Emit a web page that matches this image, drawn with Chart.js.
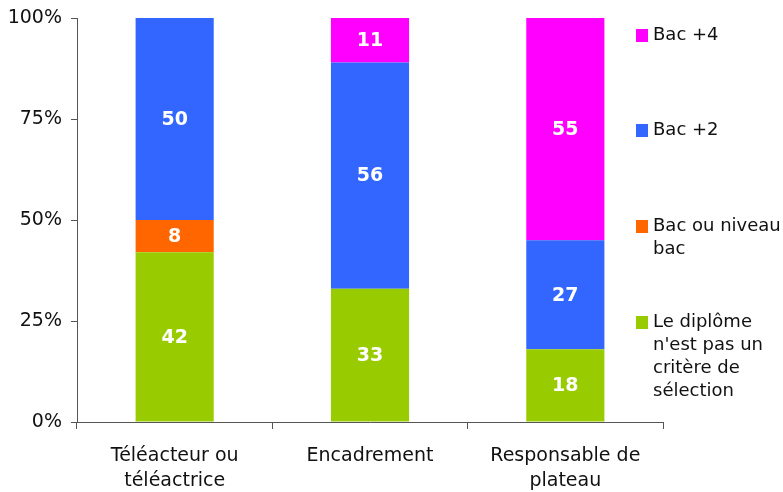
<!DOCTYPE html>
<html>
<head>
<meta charset="utf-8">
<script src="https://cdn.jsdelivr.net/npm/chart.js@4"></script>
<style>
  html, body { margin: 0; padding: 0; background: #fff; }
  #wrap { position: relative; width: 783px; height: 492px; }
</style>
</head>
<body>
<div id="wrap"><canvas id="chart" width="783" height="492"></canvas></div>
<script>
const categories = [['Téléacteur ou', 'téléactrice'], 'Encadrement', ['Responsable de', 'plateau']];
const seriesNames = ['Le diplôme n\'est pas un critère de sélection', 'Bac ou niveau bac', 'Bac +2', 'Bac +4'];
const diplomeNonCritere = [42, 33, 18];
const bacNiveauBac = [8, 0, 0];
const bacPlus2 = [50, 56, 27];
const bacPlus4 = [0, 11, 55];
const yTicks = [0, 25, 50, 75, 100];

const colors = ['#99CC00', '#FF6600', '#3366FF', '#FF00FF'];
// lignes de la légende (ordre d'affichage, du haut vers le bas)
const legendLines = [
  ['Bac +4'],
  ['Bac +2'],
  ['Bac ou niveau', 'bac'],
  ['Le diplôme', 'n\'est pas un', 'critère de', 'sélection']
];
const legendColors = [colors[3], colors[2], colors[1], colors[0]];

const FONT = '"DejaVu Sans", Verdana, sans-serif';

// valeurs au centre des barres
const barLabels = {
  id: 'barLabels',
  afterDatasetsDraw(chart) {
    const ctx = chart.ctx;
    ctx.save();
    ctx.fillStyle = '#fff';
    ctx.font = 'bold 19px ' + FONT;
    ctx.textAlign = 'center';
    ctx.textBaseline = 'middle';
    chart.data.datasets.forEach((ds, i) => {
      chart.getDatasetMeta(i).data.forEach((bar, j) => {
        const v = ds.data[j];
        if (!v) return;
        const y = (bar.y + bar.base) / 2;
        ctx.fillText(String(v), bar.x, y + 1);
      });
    });
    ctx.restore();
  }
};

// légende à droite, texte sur plusieurs lignes
const sideLegend = {
  id: 'sideLegend',
  afterDraw(chart) {
    const ctx = chart.ctx;
    const startY = [35, 130, 226, 322];
    ctx.save();
    ctx.font = '18px ' + FONT;
    ctx.textBaseline = 'middle';
    ctx.textAlign = 'left';
    legendLines.forEach((lines, i) => {
      ctx.fillStyle = legendColors[i];
      ctx.fillRect(636, startY[i] - 6, 12, 13);
      ctx.fillStyle = '#111';
      lines.forEach((t, k) => ctx.fillText(t, 653, startY[i] + k * 23));
    });
    ctx.restore();
  }
};

const allSeries = [diplomeNonCritere, bacNiveauBac, bacPlus2, bacPlus4];

new Chart(document.getElementById('chart'), {
  type: 'bar',
  data: {
    labels: categories,
    datasets: allSeries.map((d, i) => ({
      label: seriesNames[i],
      data: d,
      backgroundColor: colors[i],
      borderWidth: 0,
      barPercentage: 0.8,
      categoryPercentage: 0.5
    }))
  },
  options: {
    responsive: false,
    animation: false,
    layout: { padding: { top: 18, right: 120, left: 0, bottom: 0 } },
    plugins: {
      legend: { display: false },
      tooltip: { enabled: false }
    },
    scales: {
      x: {
        stacked: true,
        grid: { drawOnChartArea: false, tickLength: 7, color: '#555', offset: true },
        border: { color: '#555', width: 1 },
        ticks: {
          color: '#111',
          font: { family: FONT, size: 19, lineHeight: 1.3 },
          padding: 15,
          maxRotation: 0
        },
        afterFit(scale) { scale.height = 70; }
      },
      y: {
        stacked: true,
        min: 0,
        max: 100,
        afterBuildTicks(scale) { scale.ticks = yTicks.map(v => ({ value: v })); },
        grid: { drawOnChartArea: false, tickLength: 6, color: '#555' },
        border: { color: '#555', width: 1 },
        ticks: {
          color: '#111',
          font: { family: FONT, size: 19, lineHeight: 1 },
          padding: 9,
          callback: v => v + '%'
        },
        afterFit(scale) { scale.width = 77; scale.paddingTop = 0; scale.paddingBottom = 0; }
      }
    }
  },
  plugins: [barLabels, sideLegend]
});
</script>
</body>
</html>
